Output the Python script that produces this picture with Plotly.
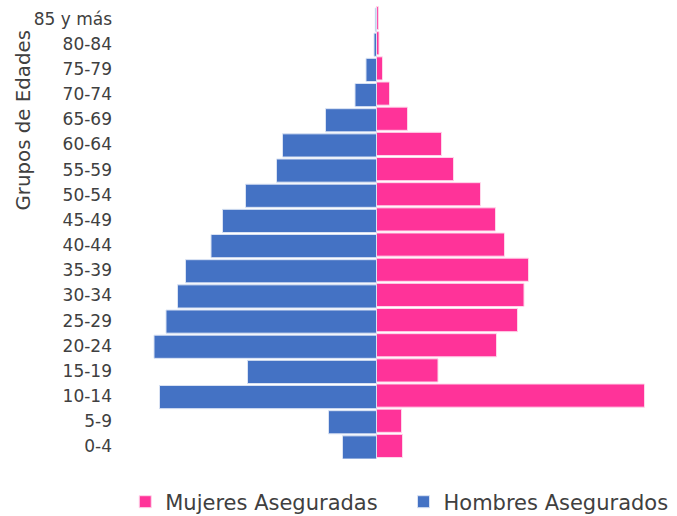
import plotly.graph_objects as go

# ================== data ================== #

grupos = ["0-4", "5-9", "10-14", "15-19", "20-24", "25-29", "30-34", "35-39",
          "40-44", "45-49", "50-54", "55-59", "60-64", "65-69", "70-74",
          "75-79", "80-84", "85 y más"]

mujeres = [26, 25, 268, 61.5, 120, 141, 147.5, 152, 128, 119, 104, 77, 65,
           31, 13, 6, 2.5, 1.8]

hombres = [34, 48, 217, 129, 222.5, 210.5, 199, 191, 165.5, 154, 131, 100,
           94, 51, 21.5, 10.5, 2.5, 1.2]

color_mujeres = "#FF3399"
color_hombres = "#4472C4"
gris = "#404040"
fuente = "DejaVu Sans"

# ================== figure ================== #

fig = go.Figure()

fig.add_trace(go.Bar(
    y=grupos,
    x=mujeres,
    name="Mujeres Aseguradas",
    orientation="h",
    marker=dict(color=color_mujeres, line=dict(color="#FFD6EA", width=1)),
    width=0.92,
    offset=-0.44,
    legend="legend",
))

fig.add_trace(go.Bar(
    y=grupos,
    x=[-v for v in hombres],
    name="Hombres Asegurados",
    orientation="h",
    marker=dict(color=color_hombres, line=dict(color="#D9E2F3", width=1)),
    width=0.92,
    offset=-0.5,
    legend="legend2",
))

# una leyenda por serie, para colocar cada entrada donde esta en el original
leyenda = dict(
    orientation="h",
    xref="container",
    yref="container",
    xanchor="left",
    y=0.027,
    yanchor="middle",
    font=dict(size=21, color=gris),
    itemwidth=30,
)

fig.update_layout(
    width=677,
    height=516,
    barmode="overlay",
    plot_bgcolor="white",
    paper_bgcolor="white",
    margin=dict(l=120, r=17, t=6, b=57),
    font=dict(family=fuente, color=gris, size=16),
    showlegend=True,
    legend=dict(leyenda, x=0.185),
    legend2=dict(leyenda, x=0.596),
    xaxis=dict(
        range=[-256.5, 283.5],
        showticklabels=False,
        showgrid=False,
        zeroline=False,
        showline=False,
        automargin=False,
    ),
    yaxis=dict(
        type="category",
        categoryorder="array",
        categoryarray=grupos,
        range=[-0.5, 17.5],
        showgrid=False,
        zeroline=False,
        showline=False,
        ticks="",
        ticklabelstandoff=7,
        automargin=False,
        tickfont=dict(size=17, color=gris),
    ),
)

# titulo del eje vertical
fig.add_annotation(
    text="Grupos de Edades",
    xref="paper", yref="paper",
    x=-0.178, y=0.747,
    xanchor="center", yanchor="middle",
    textangle=-90,
    showarrow=False,
    font=dict(size=19.8, color=gris),
)

# sin margen del body para que la figura empiece en (0, 0)
fig.write_html("out.html",
               config={"displayModeBar": False},
               post_script="document.body.style.margin = '0px';")
